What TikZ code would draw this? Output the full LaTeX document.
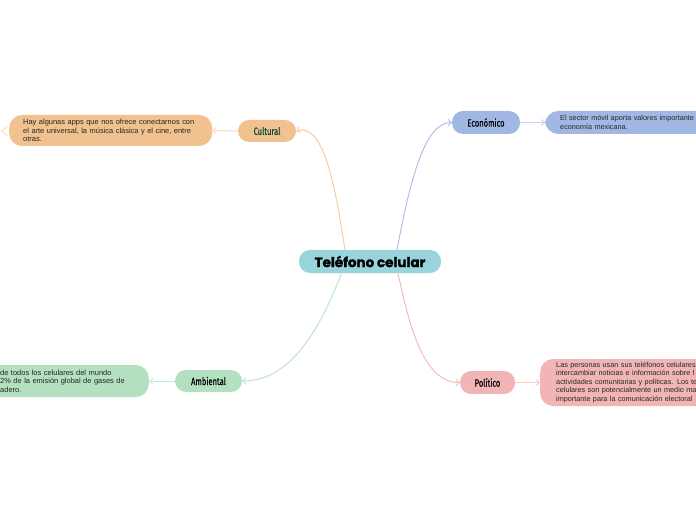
\documentclass[tikz,border=0pt]{standalone}
\usepackage{fontspec}
\setmainfont{Liberation Sans}
\newfontfamily\titlefont{Poppins}[BoldFeatures={FakeBold=1.8}]
\newfontfamily\labelfont{Fira Sans}[FakeStretch=0.72,FakeBold=0.6]
\usetikzlibrary{arrows.meta,calc}
\definecolor{cmain}{HTML}{99D3DC}
\definecolor{ccult}{HTML}{F1C28F}
\definecolor{cecon}{HTML}{A2B8E4}
\definecolor{camb}{HTML}{B2E0C0}
\definecolor{cpol}{HTML}{F2B5B6}
\definecolor{lcult}{HTML}{F4C89C}
\definecolor{lecon}{HTML}{A8BCE8}
\definecolor{lamb}{HTML}{B8E3C5}
\definecolor{lpol}{HTML}{F2B8B8}
\definecolor{scult}{HTML}{F7DCC0}
\definecolor{secon}{HTML}{C5D3F0}
\definecolor{samb}{HTML}{C8EAD2}
\definecolor{spol}{HTML}{F6CCCC}
\definecolor{culttext}{HTML}{0E4A3A}
\tikzset{
  topic/.style={rounded corners=11bp, inner sep=0pt, minimum height=23bp, align=center},
  mainnode/.style={topic, fill=cmain, font=\titlefont\bfseries\fontsize{13.5}{14}\selectfont},
  labelnode/.style={topic, font=\labelfont\fontsize{10.5}{12}\selectfont},
  textbox/.style={rounded corners=13bp, inner ysep=0pt, align=left, anchor=west,
    font=\fontsize{7.5}{8.6}\selectfont, text=black!85},
  conn/.style={line width=0.9bp, -{Straight Barb[length=3bp,width=6bp]}},
}
\begin{document}
\begin{tikzpicture}[x=1bp,y=-1bp]
\useasboundingbox (0,0) rectangle (696,520);
\fill[white] (0,0) rectangle (696,520);

% central
\node[mainnode, minimum width=142bp] (main) at (370,261.5) {Teléfono celular};

% topics
\node[labelnode, fill=ccult, minimum width=58bp, minimum height=22bp, text=culttext] (cult) at (267,131) {Cultural};
\node[labelnode, fill=cecon, minimum width=68bp] (econ) at (486,122.5) {Económico};
\node[labelnode, fill=camb, minimum width=67bp, minimum height=22bp] (amb) at (208.5,381) {Ambiental};
\node[labelnode, fill=cpol, minimum width=55bp] (pol) at (487.5,382.5) {Político};

% text boxes
\node[textbox, fill=ccult, minimum height=31bp, inner xsep=14bp, text width=175bp] (culttxt) at (9,130.5)
  {Hay algunas apps que nos ofrece conectarnos con\\el arte universal, la música clásica y el cine, entre\\otras.};
\node[textbox, fill=cecon, minimum height=23bp, inner xsep=15bp, text width=180bp, font=\fontsize{7.3}{8.6}\selectfont] (econtxt) at (545,122.5)
  {El sector móvil aporta valores importante\\economía mexicana.};
\node[fill=camb, rounded corners=13bp, minimum width=210bp, minimum height=32bp, anchor=east, inner sep=0pt] (ambbox) at (149,381) {};
\node[textbox, inner xsep=0pt, text width=140bp] (ambtxt) at (0,381)
  {de todos los celulares del mundo\\2\% de la emisión global de gases de\\adero.};
\node[textbox, fill=cpol, minimum height=47bp, inner xsep=16bp, text width=200bp, font=\fontsize{7.3}{8.6}\selectfont] (poltxt) at (540,382.5)
  {Las personas usan sus teléfonos celulares\\intercambiar noticias e información sobre l\\actividades comunitarias y políticas. Los te\\celulares son potencialmente un medio ma\\importante para la comunicación electoral};

% main connectors
\draw[conn, lcult] ($(main.north west)!0.324!(main.north east)$) .. controls +(-9,-60) and +(28,-9) .. (cult.east);
\draw[conn, lecon] ($(main.north west)!0.69!(main.north east)$) .. controls +(13,-70) and +(-27,0) .. (econ.west);
\draw[conn, lamb] ($(main.south west)!0.30!(main.south east)$) .. controls +(-22,57) and +(48,0) .. (amb.east);
\draw[conn, lpol] ($(main.south west)!0.697!(main.south east)$) .. controls +(12,57) and +(-35,0) .. (pol.west);

% short connectors
\draw[conn, scult, line width=1bp] (cult.west) -- (culttxt.east);
\draw[conn, secon, line width=1bp] (econ.east) -- (econtxt.west);
\draw[conn, samb, line width=1bp] (amb.west) -- (ambbox.east);
\draw[conn, spol, line width=1bp] (pol.east) -- (poltxt.west);

% small chevron at the left of the cultural text box
\coordinate (chev) at (1.5,131);
\draw[scult, line width=0.9bp] ($(chev)+(6,-4.5)$) -- (chev) -- ($(chev)+(6,4.5)$);
\end{tikzpicture}
\end{document}
